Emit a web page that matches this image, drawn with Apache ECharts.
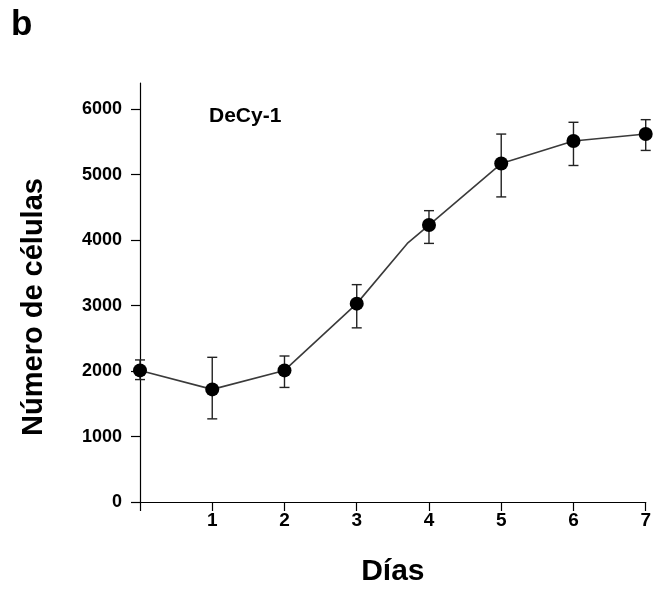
<!DOCTYPE html>
<html>
<head>
<meta charset="utf-8">
<script src="https://cdn.jsdelivr.net/npm/echarts@6/dist/echarts.min.js"></script>
<style>
  html, body { margin: 0; padding: 0; background: #fff; }
  #chart { width: 654px; height: 592px; }
</style>
</head>
<body>
<div id="chart"></div>
<script>
// dias y medias
var dias = [0, 1, 2, 3, 4, 5, 6, 7];
var medias = [2010, 1720, 2010, 3030, 4230, 5170, 5515, 5620];
var errSup = [2170, 2210, 2230, 3320, 4450, 5620, 5800, 5840];
var errInf = [1870, 1270, 1750, 2660, 3950, 4660, 5140, 5370];
// vertices of the drawn curve (it bends between day 3 and 4)
var curvaX = [0, 1, 2, 3, 3.7, 4, 5, 6, 7];
var curvaY = [2010, 1720, 2010, 3030, 3950, 4230, 5170, 5515, 5620];

var fuente = 'Liberation Sans, Arial, sans-serif';

function buildChart() {
    var myChart = echarts.init(document.getElementById('chart'));

    var puntos = [];
    var barras = [];
    for (var i = 0; i != dias.length; i++) {
        puntos.push([dias[i], medias[i]]);
        barras.push([dias[i], errInf[i], errSup[i]]);
    }
    var curva = [];
    for (var j = 0; j != curvaX.length; j++) {
        curva.push([curvaX[j], curvaY[j]]);
    }

    var option = {
        backgroundColor: '#ffffff',
        animation: false,
        grid: {
            left: 140,
            right: 5,
            top: 83,
            bottom: 85,
            containLabel: false
        },
        graphic: [{
            type: 'text',
            left: 11,
            top: 8,
            style: {
                text: 'b',
                font: 'bold 35px ' + fuente,
                fill: '#000'
            }
        }, {
            type: 'text',
            left: 209,
            top: 106,
            style: {
                text: 'DeCy-1',
                font: 'bold 21px ' + fuente,
                fill: '#000'
            }
        }, {
            type: 'text',
            x: 34,
            y: 307,
            rotation: Math.PI / 2,
            style: {
                text: 'Número de células',
                font: 'bold 29px ' + fuente,
                fill: '#000',
                textAlign: 'center',
                textVerticalAlign: 'middle'
            }
        }],
        xAxis: {
            type: 'value',
            min: 0,
            max: 7,
            interval: 1,
            name: 'Días',
            nameLocation: 'middle',
            nameGap: 55,
            nameTextStyle: {
                fontFamily: fuente,
                fontWeight: 'bold',
                fontSize: 30,
                color: '#000'
            },
            axisLine: { show: true, lineStyle: { color: '#000', width: 1.2 } },
            axisTick: { show: true, length: 9, lineStyle: { color: '#000', width: 1.2 } },
            splitLine: { show: false },
            axisLabel: {
                margin: 9,
                fontFamily: fuente,
                fontWeight: 'bold',
                fontSize: 19,
                color: '#000',
                formatter: function (v) { return v === 0 ? '' : String(v); }
            }
        },
        yAxis: {
            type: 'value',
            min: 0,
            max: 6400,
            interval: 1000,
            axisLine: { show: true, lineStyle: { color: '#000', width: 1.2 } },
            axisTick: { show: true, length: 9, lineStyle: { color: '#000', width: 1.2 } },
            splitLine: { show: false },
            axisLabel: {
                margin: 18,
                fontFamily: fuente,
                fontWeight: 'bold',
                fontSize: 18,
                color: '#000',
                showMaxLabel: false,
                formatter: function (v) { return String(v); }
            }
        },
        series: [{
            name: 'curva',
            type: 'line',
            data: curva,
            symbol: 'none',
            clip: false,
            lineStyle: { color: '#3a3a3a', width: 1.6 },
            z: 2
        }, {
            name: 'error',
            type: 'custom',
            data: barras,
            clip: false,
            z: 3,
            renderItem: function (params, api) {
                var x = api.value(0);
                var lo = api.coord([x, api.value(1)]);
                var hi = api.coord([x, api.value(2)]);
                var cap = 5;
                var st = { stroke: '#222', lineWidth: 1.4 };
                return {
                    type: 'group',
                    children: [
                        { type: 'line', shape: { x1: hi[0], y1: hi[1], x2: lo[0], y2: lo[1] }, style: st },
                        { type: 'line', shape: { x1: hi[0] - cap, y1: hi[1], x2: hi[0] + cap, y2: hi[1] }, style: st },
                        { type: 'line', shape: { x1: lo[0] - cap, y1: lo[1], x2: lo[0] + cap, y2: lo[1] }, style: st }
                    ]
                };
            }
        }, {
            name: 'medias',
            type: 'scatter',
            data: puntos,
            symbol: 'circle',
            symbolSize: 14,
            clip: false,
            itemStyle: { color: '#000', opacity: 1 },
            z: 4
        }]
    };

    myChart.setOption(option);
}

buildChart();
</script>
</body>
</html>
